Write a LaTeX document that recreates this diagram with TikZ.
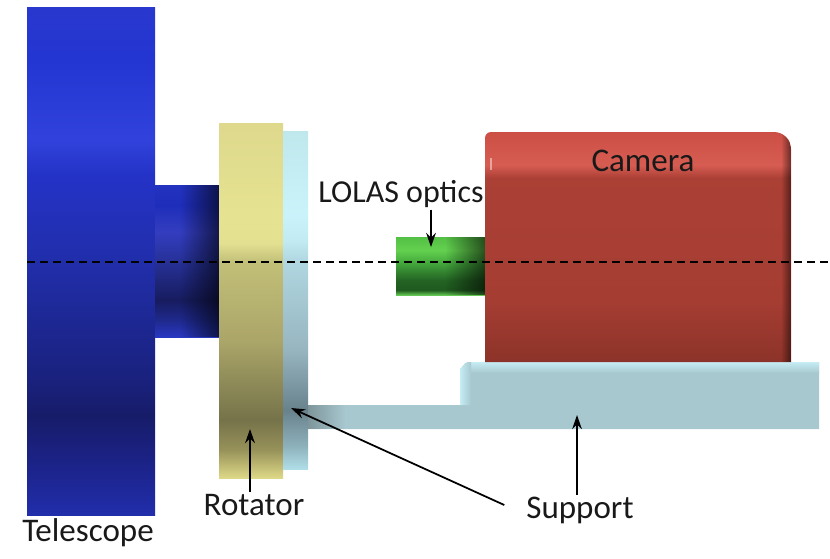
\documentclass[tikz,border=0pt]{standalone}
\usepackage{fontspec}
\setmainfont{Carlito}
\usetikzlibrary{arrows.meta,fadings}
% vertical colour ramps, the body of each part sits between 25bp and 75bp
\pgfdeclareverticalshading{tubeshade}{100bp}{rgb(0bp)=(0.13,0.18,0.67);rgb(25bp)=(0.13,0.18,0.67);rgb(29.4bp)=(0.11,0.14,0.55);rgb(34.8bp)=(0.09,0.11,0.41);rgb(38.3bp)=(0.10,0.13,0.49);rgb(50.1bp)=(0.13,0.18,0.67);rgb(58.5bp)=(0.14,0.20,0.78);rgb(61.9bp)=(0.19,0.26,0.86);rgb(70bp)=(0.14,0.21,0.82);rgb(75bp)=(0.16,0.22,0.81);rgb(100bp)=(0.16,0.22,0.81)}
\pgfdeclareverticalshading{neckshade}{100bp}{rgb(0bp)=(0.16,0.22,0.76);rgb(25bp)=(0.16,0.22,0.76);rgb(30.6bp)=(0.12,0.16,0.55);rgb(37.2bp)=(0.09,0.11,0.37);rgb(49.7bp)=(0.15,0.19,0.59);rgb(59.5bp)=(0.20,0.24,0.75);rgb(68.4bp)=(0.12,0.18,0.73);rgb(75bp)=(0.14,0.20,0.75);rgb(100bp)=(0.14,0.20,0.75)}
\pgfdeclareverticalshading{rotatorshade}{100bp}{rgb(0bp)=(0.87,0.85,0.53);rgb(25bp)=(0.87,0.85,0.53);rgb(29bp)=(0.59,0.57,0.35);rgb(33.2bp)=(0.46,0.45,0.29);rgb(44.4bp)=(0.67,0.65,0.41);rgb(55.4bp)=(0.76,0.75,0.47);rgb(58.1bp)=(0.89,0.88,0.57);rgb(61.3bp)=(0.90,0.89,0.57);rgb(75bp)=(0.87,0.85,0.55);rgb(100bp)=(0.87,0.85,0.55)}
\pgfdeclareverticalshading{plateshade}{100bp}{rgb(0bp)=(0.69,0.87,0.91);rgb(25bp)=(0.69,0.87,0.91);rgb(28.5bp)=(0.55,0.69,0.73);rgb(33.7bp)=(0.41,0.51,0.55);rgb(42.6bp)=(0.59,0.71,0.75);rgb(55.6bp)=(0.69,0.84,0.88);rgb(58.9bp)=(0.76,0.92,0.95);rgb(62.6bp)=(0.79,0.95,0.98);rgb(75bp)=(0.75,0.91,0.93);rgb(100bp)=(0.75,0.91,0.93)}
\pgfdeclareverticalshading{opticsshade}{100bp}{rgb(0bp)=(0.39,0.78,0.33);rgb(25bp)=(0.39,0.78,0.33);rgb(29.3bp)=(0.12,0.35,0.12);rgb(37.9bp)=(0.14,0.39,0.14);rgb(53.4bp)=(0.27,0.67,0.24);rgb(63.8bp)=(0.39,0.82,0.31);rgb(75bp)=(0.33,0.75,0.27);rgb(100bp)=(0.33,0.75,0.27)}
\pgfdeclareverticalshading{camerashade}{100bp}{rgb(0bp)=(0.55,0.20,0.16);rgb(25bp)=(0.55,0.20,0.16);rgb(38.5bp)=(0.65,0.24,0.20);rgb(65bp)=(0.67,0.25,0.21);rgb(67.8bp)=(0.84,0.36,0.32);rgb(75bp)=(0.80,0.31,0.27);rgb(100bp)=(0.80,0.31,0.27)}
\definecolor{supportblue}{RGB}{168,200,207}
\definecolor{supportlip}{RGB}{198,236,244}
\tikzset{
  partlabel/.style={font=\fontsize{18.8}{22}\selectfont,inner sep=1pt,text=black!90},
  pointer/.style={-{Stealth[length=8pt,width=5.5pt]},line width=1pt},
  axisline/.style={line width=0.85pt,dash pattern=on 4.6pt off 2.8pt},
}
\begin{document}
\begin{tikzpicture}[x=0.02cm,y=-0.02cm]
  \useasboundingbox (0,0) rectangle (830,558);
  % telescope tube and neck
  \shade[shading=tubeshade] (27,7) rectangle (155,515);
  \shade[shading=neckshade] (155,185) rectangle (219,337);
  \fill[black,opacity=0.6,path fading=west] (180,185) rectangle (219,337);
  % rotator and mounting plate
  \shade[shading=rotatorshade] (219,123) rectangle (283,478);
  \shade[shading=plateshade] (283,131) rectangle (308,469);
  % support bracket
  \fill[supportblue] (308,405)--(460,405)--(460,368) to[out=-90,in=180] (468,362)--(819,362)--(819,429)--(308,429)--cycle;
  \shade[top color=supportlip,bottom color=supportblue] (468,362)--(819,362)--(819,373)--(468,373)--cycle;
  \shade[left color=supportlip,right color=supportblue] (460,405)--(460,368) to[out=-90,in=180] (468,362)--(471,362)--(471,405)--cycle;
  \fill[black,opacity=0.25,path fading=east] (308,405) rectangle (345,429);
  % LOLAS optics
  \shade[shading=opticsshade] (396,237) rectangle (485,295);
  \fill[black,opacity=0.6,path fading=west] (445,237) rectangle (485,295);
  % camera body
  \shade[shading=camerashade] (485,362)--(485,138) arc(180:270:6)--(774,132) arc(270:360:17)--(791,362)--cycle;
  \begin{scope}
    \clip (485,362)--(485,138) arc(180:270:6)--(774,132) arc(270:360:17)--(791,362)--cycle;
    \fill[black,opacity=0.5,path fading=west] (781,132) rectangle (791,362);
  \end{scope}
  \fill[white,opacity=0.45] (490,158) rectangle (491.5,170);
  % optical axis
  \coordinate (axisL) at (27,262);
  \coordinate (axisR) at (830,262);
  \draw[axisline] (axisL)--(axisR);
  % labels
  \node[partlabel] (telescope) at (88,533) {Telescope};
  \node[partlabel] (rotator) at (254,505) {Rotator};
  \node[partlabel] (support) at (580,510) {Support};
  \node[partlabel,font=\fontsize{18.2}{22}\selectfont] (lolas) at (401,194) {LOLAS optics};
  \node[partlabel] (camera) at (643,161) {Camera};
  % pointers
  \coordinate (opticsTip) at (431,247);
  \coordinate (rotatorTip) at (250,429);
  \coordinate (plateTip) at (291,408);
  \coordinate (bracketTip) at (577,415);
  \draw[pointer] (lolas.south -| opticsTip)--(opticsTip);
  \draw[pointer,line width=1.4pt] (rotator.north -| rotatorTip)--(rotatorTip);
  \draw[pointer] (support.west)++(-20,-5)--(plateTip);
  \draw[pointer] (support.north -| bracketTip)--(bracketTip);
\end{tikzpicture}
\end{document}
